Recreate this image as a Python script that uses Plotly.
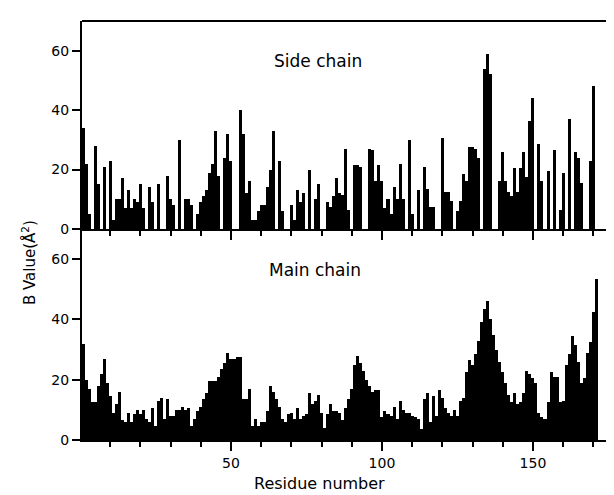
import plotly.graph_objects as go

residues = list(range(1, 172))

side_chain = [
    34, 22, 5, 0, 28, 15, 0, 21, 0, 23,
    3, 10, 10, 17, 7, 13, 7, 10, 9, 15,
    7, 0, 14, 9, 0, 15, 0, 0, 18, 10,
    8, 0, 30, 0, 10, 10, 8, 0, 5, 9,
    11, 13, 19, 22, 33, 18, 0, 24, 32, 23,
    0, 0, 40, 32, 12, 16, 3, 3, 6, 8,
    8, 14, 20, 33, 0, 23, 6, 0, 0, 8,
    3, 13, 9, 12, 0, 20, 0, 10, 15, 0,
    0, 9, 7.5, 11, 17, 12, 11.5, 27, 6.5, 0,
    21.5, 21.5, 21, 0, 0, 27, 26.5, 16, 21.5, 16,
    7, 10, 5, 14, 10, 22, 10, 0, 30, 5,
    0, 13, 0, 21, 13.5, 7.5, 7.5, 0, 0, 30.5,
    12.5, 12.5, 9.5, 0, 6, 9.5, 18.5, 16, 27.5, 27.5,
    27, 24, 0, 54, 59, 52, 0, 0, 16, 26,
    16, 12.5, 11, 20.5, 12.5, 20.5, 26, 17.5, 36.5, 44,
    0, 28.5, 16, 0, 19.5, 0, 26.5, 0, 6.5, 19,
    0, 37, 0, 26, 24, 15.5, 0, 0, 23, 48,
    0,
]

main_chain = [
    32, 20, 17, 12.5, 12.5, 18, 22, 27, 19, 14.5,
    9, 12, 16, 6.5, 6, 9, 6, 8.5, 10, 8.5,
    10, 7, 6, 10.5, 4.5, 13, 14, 7, 13.5, 8,
    8, 10, 10, 11, 10, 10.5, 4.5, 7, 9.5, 11,
    13.5, 15.5, 19.5, 19.5, 19.5, 21, 23.5, 25.5, 29, 27,
    27, 27.5, 27.5, 13.5, 13.5, 17, 4.5, 7, 4.5, 6,
    6, 9.5, 18, 16, 13.5, 11, 7, 6, 8.5, 9,
    7, 10.5, 7, 8, 8.5, 15.5, 12, 13, 15, 9,
    4, 8.5, 12, 9.5, 9.5, 9, 6.5, 10.5, 13.5, 17,
    25, 28, 25.5, 23, 20, 18, 16, 16.5, 16.5, 7.5,
    9.5, 8.5, 8, 11, 7, 13, 10, 9, 9, 8,
    7.5, 7, 3.5, 13.5, 15.5, 6, 14.5, 8, 16.5, 14,
    10.5, 9, 8, 10, 8, 13, 14, 22.5, 26.5, 25,
    28.5, 33, 39, 43.5, 46, 40, 35, 30, 26, 22.5,
    19, 15, 12.5, 15.5, 12, 12.5, 15.5, 23, 22, 20.5,
    19, 9, 7.5, 7, 12.5, 22.5, 21, 21, 12.5, 13,
    25, 28.5, 34.5, 31.5, 26, 19, 20.5, 29, 32.5, 42.5,
    53.5,
]

x_tick_vals = [50, 100, 150]
y_tick_vals = [0, 20, 40, 60]
panel_labels = ["Side chain", "Main chain"]
x_title = "Residue number"
y_title = "B Value(Å<sup>2</sup>)"

FONT = "DejaVu Sans"
x_range = [0.66, 179.5]
split = 0.5036

fig = go.Figure()
fig.add_trace(go.Bar(x=residues, y=main_chain, xaxis="x", yaxis="y",
                     marker=dict(color="black", line=dict(width=0)), width=1))
fig.add_trace(go.Bar(x=residues, y=side_chain, xaxis="x2", yaxis="y2",
                     marker=dict(color="black", line=dict(width=0)), width=1))

common_y = dict(range=[0, 70], tickvals=y_tick_vals, ticks="outside", ticklen=8,
                tickwidth=1.5, tickcolor="black", showline=True, linecolor="black",
                linewidth=2, showgrid=False, zeroline=False,
                tickfont=dict(family=FONT, size=14, color="black"))
common_x = dict(range=x_range, tickvals=x_tick_vals, ticks="outside", ticklen=9,
                tickwidth=1.5, tickcolor="black", showline=True, linecolor="black",
                linewidth=2, showgrid=False, zeroline=False,
                minor=dict(dtick=10, tick0=0, ticklen=5, tickwidth=1.5,
                           tickcolor="black", ticks="outside", showgrid=False))

def note(text, x, y, size, angle=0):
    return dict(text=text, xref="paper", yref="paper", x=x, y=y,
                xanchor="center", yanchor="middle", textangle=angle,
                showarrow=False, font=dict(family=FONT, size=size, color="black"))

fig.update_layout(
    width=614, height=495,
    margin=dict(l=74, r=0, t=13, b=63),
    paper_bgcolor="white", plot_bgcolor="white",
    showlegend=False, bargap=0,
    xaxis=dict(**common_x, anchor="y",
               tickfont=dict(family=FONT, size=14, color="black")),
    xaxis2=dict(**common_x, anchor="y2", matches="x", showticklabels=False),
    yaxis=dict(**common_y, domain=[0, split], anchor="x"),
    yaxis2=dict(**common_y, domain=[split, 1], anchor="x2"),
    shapes=[dict(type="line", xref="x2 domain", yref="y2 domain",
                 x0=0, x1=1, y0=1, y1=1, line=dict(color="black", width=2))],
    annotations=[
        note(panel_labels[0], 0.437, 0.9045, 17),
        note(panel_labels[1], 0.431, 0.4057, 17),
        note(x_title, 0.44, -0.104, 16),
        note(y_title, -0.098, 0.4224, 15, angle=-90),
    ],
)

fig.write_html("out.html")
